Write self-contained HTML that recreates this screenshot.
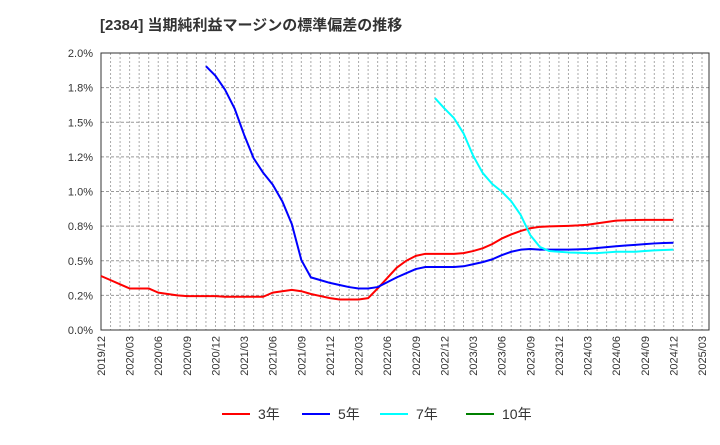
<!DOCTYPE html>
<html><head><meta charset="utf-8"><style>
body{margin:0;background:#fff;font-family:"Liberation Sans","Noto Sans CJK JP",sans-serif}
svg text{font-family:"Liberation Sans","Noto Sans CJK JP",sans-serif}
</style></head><body>
<svg id="c" width="720" height="440" xmlns="http://www.w3.org/2000/svg">
<text x="100" y="30" font-size="15" font-weight="bold" fill="#333">[2384]  当期純利益マージンの標準偏差の推移</text>
<g id="grid"></g><g id="axes"></g><g id="series"></g><g id="legend"></g>
</svg>
<script>
const xLabels=["2019/12","2020/03","2020/06","2020/09","2020/12","2021/03","2021/06","2021/09","2021/12","2022/03","2022/06","2022/09","2022/12","2023/03","2023/06","2023/09","2023/12","2024/03","2024/06","2024/09","2024/12","2025/03"];
const yTicks=[0,0.25,0.5,0.75,1.0,1.25,1.5,1.75,2.0];
const yTickLabels=["0.0%","0.2%","0.5%","0.8%","1.0%","1.2%","1.5%","1.8%","2.0%"];
const s3Start=0;
const s3=[0.39,0.36,0.33,0.30,0.30,0.30,0.27,0.26,0.25,0.245,0.245,0.245,0.245,0.24,0.24,0.24,0.24,0.24,0.27,0.28,0.29,0.28,0.26,0.245,0.23,0.22,0.22,0.22,0.23,0.30,0.375,0.45,0.50,0.535,0.55,0.55,0.55,0.55,0.555,0.57,0.59,0.62,0.66,0.69,0.715,0.735,0.745,0.748,0.75,0.752,0.755,0.76,0.77,0.78,0.79,0.792,0.794,0.795,0.795,0.795,0.795];
const s5Start=11;
const s5=[1.905,1.835,1.735,1.60,1.41,1.24,1.135,1.05,0.93,0.765,0.505,0.38,0.36,0.34,0.325,0.31,0.30,0.30,0.31,0.345,0.38,0.41,0.44,0.455,0.455,0.455,0.455,0.46,0.475,0.49,0.51,0.54,0.565,0.58,0.585,0.58,0.58,0.58,0.58,0.582,0.585,0.592,0.598,0.605,0.61,0.615,0.62,0.625,0.628,0.63];
const s7Start=35;
const s7=[1.675,1.60,1.53,1.42,1.26,1.135,1.055,1.00,0.93,0.83,0.685,0.60,0.57,0.565,0.56,0.558,0.555,0.555,0.56,0.565,0.565,0.565,0.57,0.575,0.578,0.58];
const s10Start=0;
const s10=[];
const L=101,R=709,T=53,B=330,NM=63,XEND=702;
const xs=i=>L+i*(XEND-L)/NM;
const ys=v=>B-v/2*(B-T);
const NS="http://www.w3.org/2000/svg";
function mk(p,t,a){const e=document.createElementNS(NS,t);for(const k in a)e.setAttribute(k,a[k]);p.appendChild(e);return e;}
const g=document.getElementById('grid'),ax=document.getElementById('axes'),se=document.getElementById('series'),lg=document.getElementById('legend');
for(let i=1;i<=NM;i++){const l=mk(g,'line',{x1:xs(i),x2:xs(i),y1:T,y2:B,stroke:'#aaa','stroke-dasharray':'2,2','stroke-width':1});

}
yTicks.forEach((v,i)=>{const l=mk(g,'line',{x1:L,x2:R,y1:ys(v),y2:ys(v),stroke:'#999','stroke-dasharray':'3,2','stroke-width':1});


const t=mk(ax,'text',{x:L-8,y:ys(v)+4,'text-anchor':'end','font-size':11,fill:'#333'});t.textContent=yTickLabels[i];

});
xLabels.forEach((s,i)=>{const x=xs(i*3);const t=mk(ax,'text',{transform:`translate(${x+4},${B+6}) rotate(-90)`,'text-anchor':'end','font-size':11,fill:'#333'});t.textContent=s;

});
const fr=mk(ax,'rect',{x:L,y:T,width:R-L,height:B-T,fill:'none',stroke:'#333','stroke-width':1});


function line(d,st,col,name){if(!d.length)return;const p=mk(se,'polyline',{points:d.map((v,i)=>xs(st+i)+','+ys(v)).join(' '),fill:'none',stroke:col,'stroke-width':2,'stroke-linejoin':'round'});

}
line(s3,s3Start,'#f00','series-3yr');line(s5,s5Start,'#00f','series-5yr');line(s7,s7Start,'#0ff','series-7yr');line(s10,s10Start,'#008000','series-10yr');
[['3年','#f00',222],['5年','#00f',302],['7年','#0ff',380],['10年','#008000',466]].forEach(([n,c,x])=>{
const l=mk(lg,'line',{x1:x,x2:x+28,y1:414,y2:414,stroke:c,'stroke-width':2});


const t=mk(lg,'text',{x:x+36,y:419,'font-size':14,fill:'#333'});t.textContent=n;

});
</script>
</body></html>
